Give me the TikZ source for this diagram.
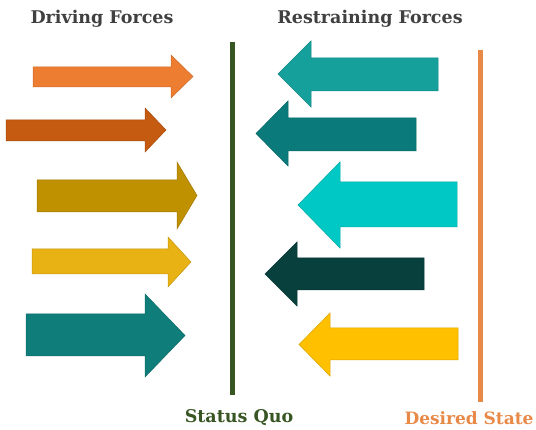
\documentclass[tikz,border=0pt]{standalone}
\usepackage{fontspec}
\setmainfont{DejaVu Serif}

\definecolor{quoGreen}{RGB}{55,86,35}
\definecolor{goalOrange}{RGB}{232,137,72}
\definecolor{titleGray}{RGB}{64,64,64}
\definecolor{drvA}{RGB}{237,125,49}
\definecolor{drvB}{RGB}{197,90,17}
\definecolor{drvC}{RGB}{191,144,0}
\definecolor{drvD}{RGB}{232,178,20}
\definecolor{drvE}{RGB}{15,125,122}
\definecolor{rstA}{RGB}{22,160,155}
\definecolor{rstB}{RGB}{10,122,122}
\definecolor{rstC}{RGB}{0,200,196}
\definecolor{rstD}{RGB}{8,64,62}
\definecolor{rstE}{RGB}{255,192,0}

% block arrow: colour, tail x, neck x, tip x, body top, body bottom, head top, head bottom
\newcommand\forcearrow[8]{%
  \filldraw[fill=#1, draw=#1!85!black, line width=0.5pt]
    (#2,#5) -- (#3,#5) -- (#3,#7) -- (#4,{(#7+#8)/2})
    -- (#3,#8) -- (#3,#6) -- (#2,#6) -- cycle;}

\tikzset{
  heading/.style={font=\bfseries\fontsize{17.5}{20}\selectfont, text=titleGray, inner sep=0pt},
  caption/.style={font=\bfseries\fontsize{17.5}{20}\selectfont, inner sep=0pt},
  divider/.style={line width=5pt}
}

\begin{document}
\begin{tikzpicture}[x=1pt, y=-1pt]
  \useasboundingbox (0,0) rectangle (536,430);

  % headings
  \node[heading] (driving) at (102,19) {Driving Forces};
  \node[heading] (restraining) at (370,19) {Restraining Forces};

  % the two lines
  \coordinate (quoTop) at (232,42);
  \coordinate (quoBot) at (232,395);
  \coordinate (goalTop) at (480,50);
  \coordinate (goalBot) at (480,402);
  \draw[divider, quoGreen] (quoTop) -- (quoBot);
  \draw[divider, goalOrange] (goalTop) -- (goalBot);
  \node[caption, text=quoGreen] (quo) at (239,418) {Status Quo};
  \node[caption, text=goalOrange, font=\bfseries\fontsize{17}{20}\selectfont] (goal) at (469,418) {Desired State};

  % driving forces
  \forcearrow{drvA}{33}{171}{193}{67}{87}{55}{98}
  \forcearrow{drvB}{6}{145}{166}{120}{141}{108}{152}
  \forcearrow{drvC}{37}{177}{197}{180}{212}{162}{229}
  \forcearrow{drvD}{32}{168}{191}{249}{274}{237}{287}
  \forcearrow{drvE}{26}{145}{185}{314}{356}{294}{377}

  % restraining forces
  \forcearrow{rstA}{438}{311}{278}{58}{91}{41}{107}
  \forcearrow{rstB}{416}{288}{256}{118}{151}{101}{166}
  \forcearrow{rstC}{457}{340}{298}{182}{227}{162}{248}
  \forcearrow{rstD}{424}{297}{265}{258}{290}{242}{306}
  \forcearrow{rstE}{458}{330}{299}{328}{360}{313}{376}
\end{tikzpicture}
\end{document}
